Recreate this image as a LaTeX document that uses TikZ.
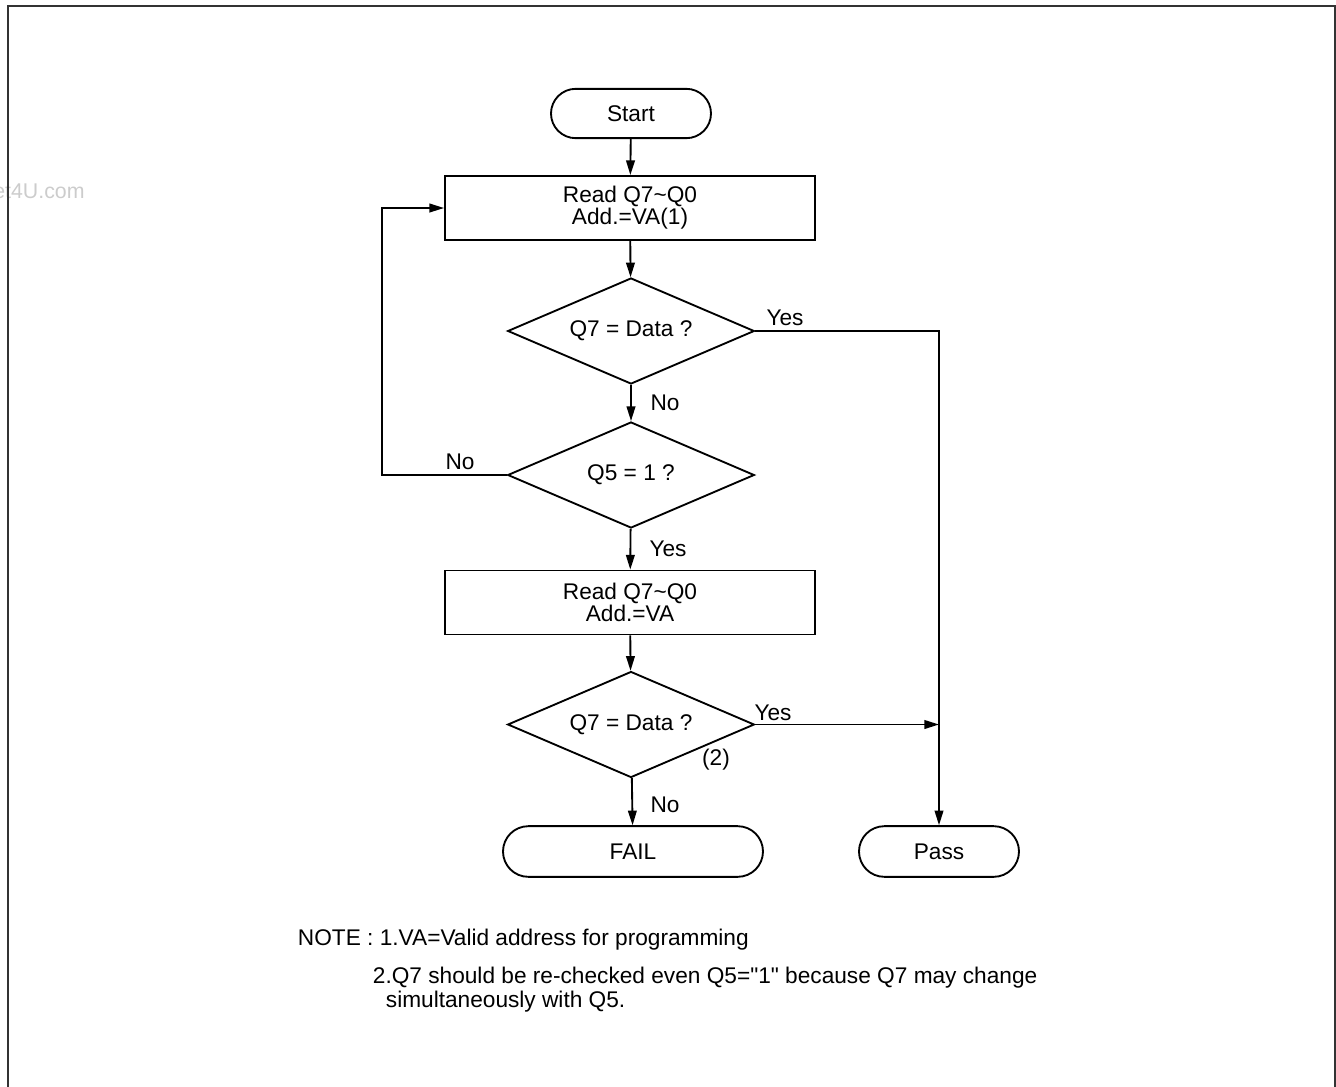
\documentclass[tikz,border=0pt]{standalone}
\usepackage{fontspec}
\setmainfont{Liberation Sans}
\usetikzlibrary{shapes.geometric,shapes.misc,arrows.meta}

\begin{document}
\begin{tikzpicture}[x=0.75pt,y=-0.75pt,
		font=\fontsize{17}{15}\selectfont,
		line width=1.4pt,
		>={Triangle[length=11pt,width=6.5pt]},
		term/.style={draw,rounded rectangle,minimum height=37pt,inner sep=0pt},
		procbox/.style={draw,rectangle,minimum width=277.5pt,minimum height=48pt,align=center,inner sep=0pt},
		decide/.style={draw,diamond,aspect=2.33,minimum width=185pt,minimum height=79.5pt,inner sep=0pt},
		lbl/.style={inner sep=0pt}]
		\useasboundingbox (0,0) rectangle (1336,1086);

		% page frame and cut-off watermark
		\node[anchor=east,text=black!20,font=\fontsize{16}{16}\selectfont] (mark) at (90,191) {www.DataSheet4U.com};
		\draw[line width=1.5pt,black!80] (8,1092) -- (8,6) -- (1335,6) -- (1335,1092);

		% flow chart nodes
		\node[term,minimum width=120pt] (start) at (631,113.5) {Start};
		\node[procbox] (readA) at (630,208) {Read Q7\textasciitilde Q0\\Add.=VA(1)};
		\node[decide] (chkA) at (631,331) {Q7 = Data ?};
		\node[decide] (chkQ5) at (631,475) {Q5 = 1 ?};
		\node[procbox] (readB) at (630,602.5) {Read Q7\textasciitilde Q0\\Add.=VA};
		\node[decide] (chkB) at (631,724.5) {Q7 = Data ?};
		\node[term,minimum width=195pt,minimum height=38pt] (fail) at (633,851.5) {FAIL};
		\node[term,minimum width=120pt,minimum height=38pt] (pass) at (939,851.5) {Pass};

		% connectors
		\draw[->] (start) -- (readA);
		\draw[->] (readA) -- (chkA);
		\draw[->] (chkA) -- (chkQ5);
		\draw[->] (chkQ5) -- (readB);
		\draw[->] (readB) -- (chkB);
		\draw[->] (chkB) -- (fail);
		\draw[->] (chkA.east) -| (pass.north);
		\draw[->] (chkB.east) -- (chkB.east -| pass.north);
		\draw[->] (chkQ5.west) -- ++(-125,0) |- (readA.west);

		% branch labels
		\node[lbl] (yesA) at (785,318) {Yes};
		\node[lbl] (noA) at (665,403) {No};
		\node[lbl] (noQ5) at (460,462) {No};
		\node[lbl] (yesQ5) at (668,549) {Yes};
		\node[lbl] (yesB) at (773,713) {Yes};
		\node[lbl] (refB) at (716,760) {(2)};
		\node[lbl] (noB) at (665,805) {No};

		% notes
		\node[lbl,anchor=west] (noteA) at (297,940) {NOTE : 1.VA=Valid address for programming};
		\node[lbl,anchor=west] (noteB) at (372,978) {2.Q7 should be re-checked even Q5=\textquotedbl 1\textquotedbl\ because Q7 may change};
		\node[lbl,anchor=west] (noteC) at (385,1002) {simultaneously with Q5.};
	\end{tikzpicture}
\end{document}
